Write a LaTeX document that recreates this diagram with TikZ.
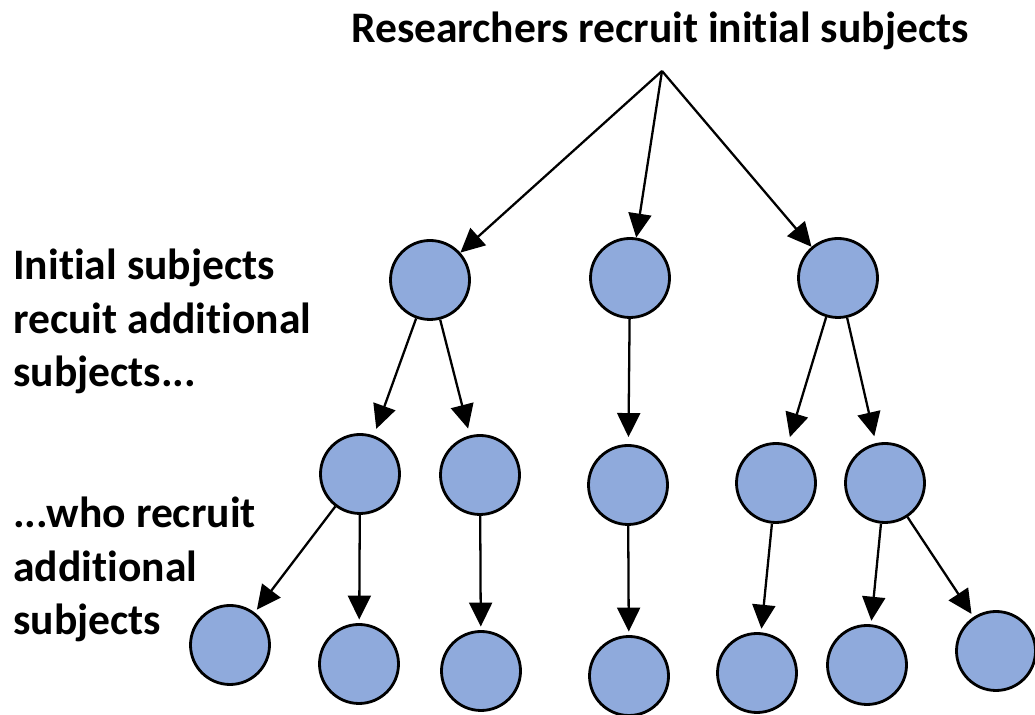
\documentclass[tikz,border=0pt]{standalone}
\usepackage{fontspec}
\setmainfont[Ligatures={NoCommon}]{Carlito}
\usetikzlibrary{arrows.meta}
\definecolor{subjblue}{HTML}{8FAADC}
\tikzset{
  subject/.style={circle, draw=black, line width=1.6pt, fill=subjblue, minimum size=1.58cm, inner sep=0pt},
  recruit/.style={-{Triangle[length=0.48cm,width=0.46cm]}, line width=1.3pt},
  caption/.style={font=\fontsize{24.8}{30.7}\selectfont\bfseries, inner sep=0pt, align=left},
}
\begin{document}
\begin{tikzpicture}
                \useasboundingbox (0,0) rectangle (20.7,14.3);

                \node[caption, anchor=base] (title) at (13.2,13.44) {Researchers recruit initial subjects}; %title
                \coordinate (root) at (13.24,12.88);

                \node[caption, anchor=base west] (wave1) at (0.26,6.56) {Initial subjects\\recuit additional\\subjects...}; %wave 1
                \node[caption, anchor=base west] (wave2) at (0.26,1.6) {...who recruit\\additional\\subjects}; %wave 2

                \node[subject] (s1a) at (8.6,8.7) {}; %first level
                \node[subject] (s1b) at (12.6,8.74) {};
                \node[subject] (s1c) at (16.76,8.74) {};

                \node[subject] (s2a) at (7.2,4.82) {}; %second level
                \node[subject] (s2b) at (9.6,4.8) {};
                \node[subject] (s2c) at (12.56,4.6) {};
                \node[subject] (s2d) at (15.52,4.64) {};
                \node[subject] (s2e) at (17.7,4.64) {};

                \node[subject] (s3a) at (4.6,1.4) {}; %third level
                \node[subject] (s3b) at (7.18,1.02) {};
                \node[subject] (s3c) at (9.62,0.88) {};
                \node[subject] (s3d) at (12.58,0.78) {};
                \node[subject] (s3e) at (15.14,0.84) {};
                \node[subject] (s3f) at (17.34,1.0) {};
                \node[subject] (s3g) at (19.92,1.28) {};

                \draw[recruit] (root) -- (s1a);
                \draw[recruit] (root) -- (s1b);
                \draw[recruit] (root) -- (s1c);

                \draw[recruit, shorten >=4pt] (s1a) -- (s2a);
                \draw[recruit, shorten >=4pt] (s1a) -- (s2b);
                \draw[recruit, shorten >=4pt] (s1b) -- (s2c);
                \draw[recruit, shorten >=4pt] (s1c) -- (s2d);
                \draw[recruit, shorten >=4pt] (s1c) -- (s2e);

                \draw[recruit, shorten >=2pt] (s2a) -- (s3a);
                \draw[recruit, shorten >=2pt] (s2a) -- (s3b);
                \draw[recruit, shorten >=2pt] (s2b) -- (s3c);
                \draw[recruit, shorten >=2pt] (s2c) -- (s3d);
                \draw[recruit, shorten >=2pt] (s2d) -- (s3e);
                \draw[recruit, shorten >=2pt] (s2e) -- (s3f);
                \draw[recruit, shorten >=2pt] (s2e) -- (s3g);
            \end{tikzpicture}
\end{document}
